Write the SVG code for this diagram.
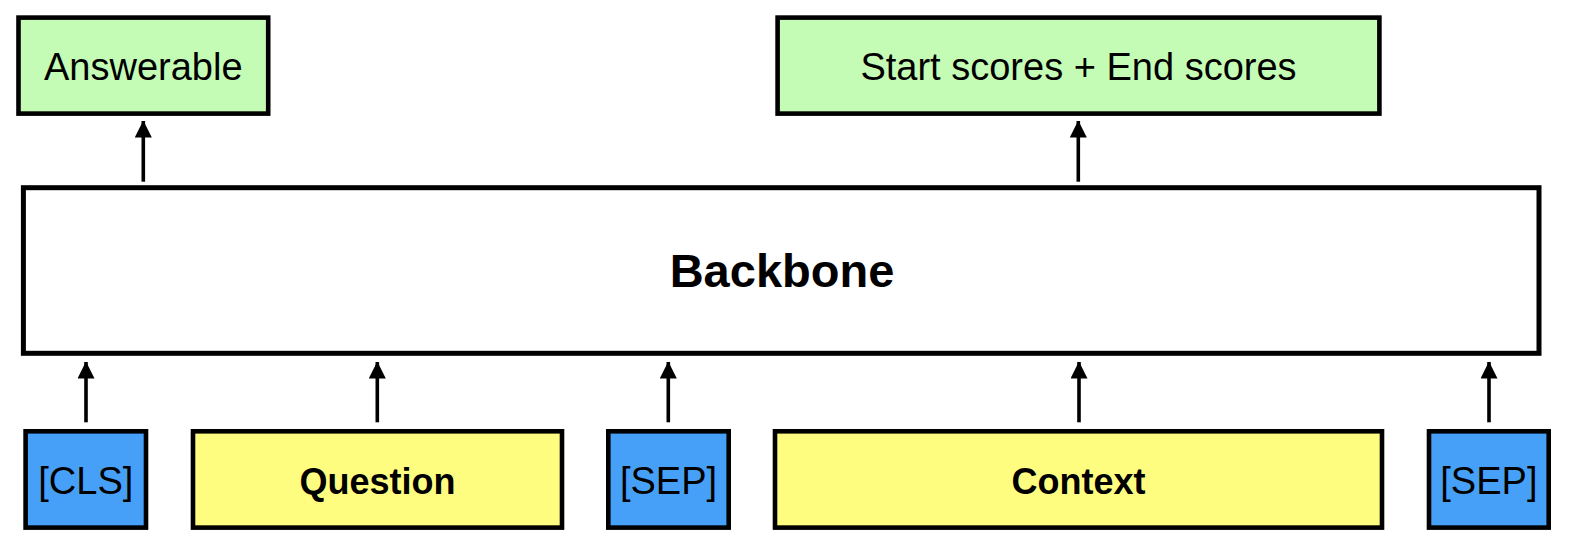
<svg xmlns="http://www.w3.org/2000/svg" width="1578" height="558" viewBox="0 0 1578 558">
<style>
.box{stroke:#000;stroke-width:4.6}
.green{fill:#c5fcb5}
.yellow{fill:#fffd80}
.blue{fill:#47a0f8}
.white{fill:#fff}
.t{font-family:"Liberation Sans",Arial,Helvetica,sans-serif;fill:#000;text-anchor:middle}
.reg{font-size:38px}
.bold{font-weight:bold;font-size:36px}
.big{font-weight:bold;font-size:47px}
.conn{stroke:#000;stroke-width:3.6;fill:none}
</style>
<defs>
<marker id="ah" markerUnits="userSpaceOnUse" markerWidth="17" markerHeight="17" viewBox="0 0 17 17" refX="16.5" refY="8.5" orient="auto">
<path d="M0,0 L17,8.5 L0,17 Z" fill="#000"/>
</marker>
</defs>
<rect width="1578" height="558" fill="#fff"/>
<g id="answerable">
<rect class="box green" x="18.5" y="17.6" width="249.7" height="96"/>
<text class="t reg" x="143.3" y="80">Answerable</text>
</g>
<g id="scores">
<rect class="box green" x="777.6" y="17.6" width="601.8" height="96"/>
<text class="t reg" x="1078.5" y="80">Start scores + End scores</text>
</g>
<g id="backbone">
<rect class="box white" x="23.4" y="187.7" width="1515.6" height="165.6" style="stroke-width:5"/>
<text class="t big" x="782" y="287">Backbone</text>
</g>
<g id="cls">
<rect class="box blue" x="25.6" y="431.3" width="120.4" height="96.3"/>
<text class="t reg" x="85.8" y="493.5">[CLS]</text>
</g>
<g id="question">
<rect class="box yellow" x="193" y="431.3" width="369" height="96.3"/>
<text class="t bold" x="377.5" y="493.5">Question</text>
</g>
<g id="sep1">
<rect class="box blue" x="608.3" y="431.3" width="120.4" height="96.3"/>
<text class="t reg" x="668.5" y="493.5">[SEP]</text>
</g>
<g id="context">
<rect class="box yellow" x="775" y="431.3" width="607" height="96.3"/>
<text class="t bold" x="1078.5" y="493.5">Context</text>
</g>
<g id="sep2">
<rect class="box blue" x="1429" y="431.3" width="119.7" height="96.3"/>
<text class="t reg" x="1488.9" y="493.5">[SEP]</text>
</g>
<g id="connectors">
<path class="conn" d="M143.3,181.7 V121" marker-end="url(#ah)"/>
<path class="conn" d="M1078.3,181.7 V121" marker-end="url(#ah)"/>
<path class="conn" d="M86,422.3 V362" marker-end="url(#ah)"/>
<path class="conn" d="M377.3,422.3 V362" marker-end="url(#ah)"/>
<path class="conn" d="M668.3,422.3 V362" marker-end="url(#ah)"/>
<path class="conn" d="M1079,422.3 V362" marker-end="url(#ah)"/>
<path class="conn" d="M1489,422.3 V362" marker-end="url(#ah)"/>
</g>
</svg>
